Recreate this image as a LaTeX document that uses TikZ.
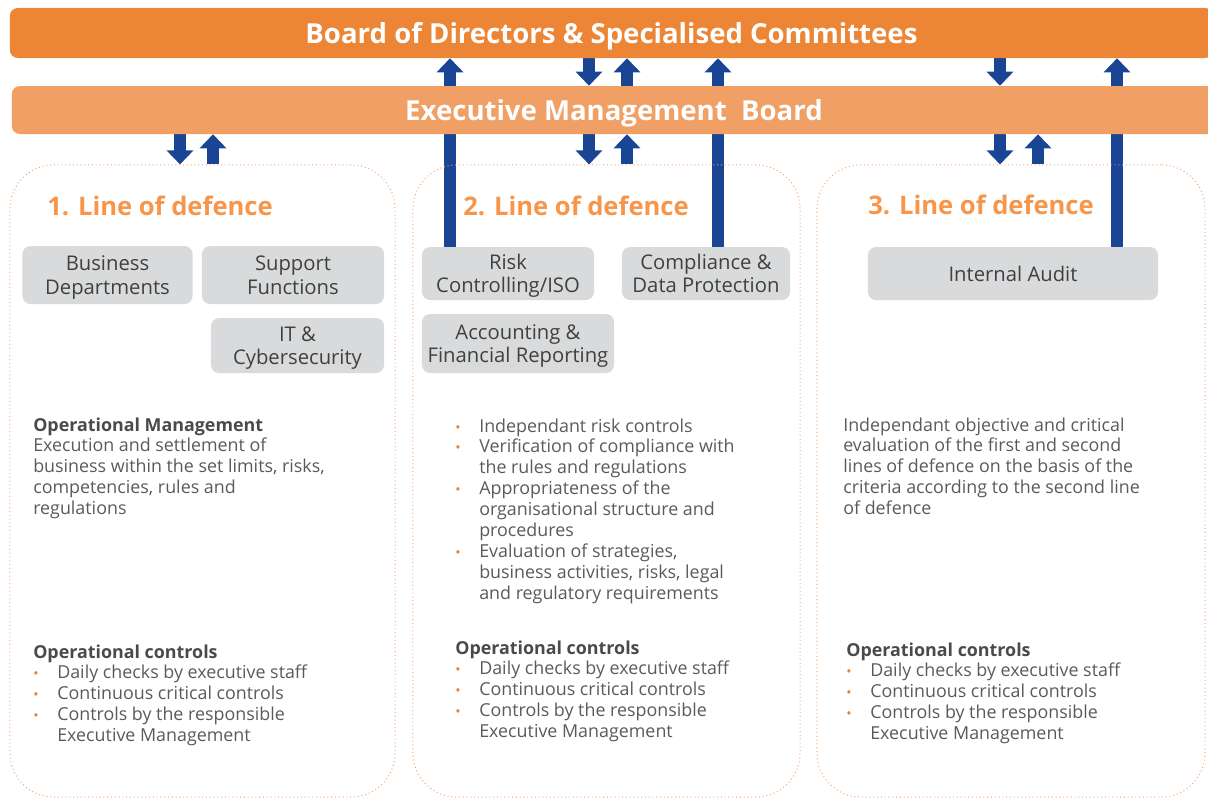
\documentclass[tikz,border=0pt]{standalone}
\usepackage{fontspec}
\setmainfont{Open Sans}
\usetikzlibrary{arrows.meta,backgrounds}

\definecolor{boardorange}{HTML}{EC8536}
\definecolor{emborange}{HTML}{F0A064}
\definecolor{titleorange}{HTML}{F7964A}
\definecolor{lodline}{HTML}{F6A46E}
\definecolor{bulletorange}{HTML}{F07F2A}
\definecolor{arrblue}{HTML}{1A4595}
\definecolor{unitgrey}{HTML}{D9DADB}
\definecolor{unittext}{HTML}{404040}
\definecolor{bodytext}{HTML}{5A5A5A}
\definecolor{headtext}{HTML}{4A4A4A}

\newcommand\bl{\makebox[0.6cm][l]{\textcolor{bulletorange}{\fontsize{10}{10}\selectfont\textbullet}}}
\newcommand\hd[1]{\textcolor{headtext}{\bfseries #1}}

\tikzset{
  bar/.style={rounded corners=0.2cm, text=white, text depth=0pt,
    font=\bfseries\fontsize{19.6}{22}\selectfont, inner sep=0pt},
  lod/.style={draw=lodline, dotted, line width=0.7pt, rounded corners=1.1cm,
    minimum height=15.8cm, inner sep=0pt},
  lodtitle/.style={anchor=west, text=titleorange, font=\bfseries\fontsize{18.2}{21}\selectfont, inner sep=0pt},
  unit/.style={fill=unitgrey, rounded corners=0.2cm, text=unittext, align=center, text depth=0pt,
    font=\fontsize{14.4}{16.6}\selectfont, inner sep=0pt},
  body/.style={anchor=base west, text=bodytext,
    font=\fontsize{12.7}{14.9}\selectfont, inner sep=0pt},
  arr/.style={draw=arrblue, line width=0.3cm, -{Triangle[width=0.65cm,length=0.35cm]}},
}

\begin{document}
\begin{tikzpicture}[x=0.025cm, y=-0.025cm]
\useasboundingbox (0,0) rectangle (1208,798);
\clip (0,0) rectangle (1208,798);

% top boards
\node[bar, fill=boardorange, minimum width=30.075cm, minimum height=1.25cm] (board) at (611.5,33)
  {Board of Directors \& Specialised Committees};
\node[bar, fill=emborange, minimum width=30.1cm, minimum height=1.2cm] (emb) at (614,110)
  {Executive Management\ \ Board};

% the three lines of defence
\node[lod, minimum width=9.625cm] (lod1) at (202.5,481) {};
\node[lod, minimum width=9.675cm] (lod2) at (606.5,481) {};
\node[lod, minimum width=9.7cm] (lod3) at (1011,481) {};

\node[lodtitle] (title1) at (47,206) {1. Line of defence};
\node[lodtitle] (title2) at (463,206) {2. Line of defence};
\node[lodtitle] (title3) at (868,205) {3. Line of defence};

% units
\node[unit, minimum width=4.25cm, minimum height=1.45cm] (bus) at (107.5,275) {Business\\Departments};
\node[unit, minimum width=4.55cm, minimum height=1.45cm] (sup) at (293,275) {Support\\Functions};
\node[unit, minimum width=4.325cm, minimum height=1.375cm] (itc) at (297.5,345.5) {IT \&\\Cybersecurity};
\node[unit, minimum width=4.3cm, minimum height=1.325cm] (risk) at (508,273.5) {Risk\\Controlling/ISO};
\node[unit, minimum width=4.2cm, minimum height=1.325cm] (comp) at (706,273.5) {Compliance \&\\Data Protection};
\node[unit, minimum width=4.8cm, minimum height=1.475cm] (acc) at (518,343.5) {Accounting \&\\Financial Reporting};
\node[unit, minimum width=7.25cm, minimum height=1.325cm] (audit) at (1013,273.5) {Internal Audit};

% descriptions
\node[body] (opm1) at (33,431) {\begin{tabular}[t]{@{}l@{}}
  \hd{Operational Management}\\
  Execution and settlement of\\
  business within the set limits, risks,\\
  competencies, rules and\\
  regulations
  \end{tabular}};
\node[body] (chk2) at (455,432) {\begin{tabular}[t]{@{}l@{}l@{}}
  \bl & Independant risk controls\\
  \bl & Verification of compliance with\\
      & the rules and regulations\\
  \bl & Appropriateness of the\\
      & organisational structure and\\
      & procedures\\
  \bl & Evaluation of strategies,\\
      & business activities, risks, legal\\
      & and regulatory requirements
  \end{tabular}};
\node[body] (eval3) at (843,431) {\begin{tabular}[t]{@{}l@{}}
  Independant objective and critical\\
  evaluation of the first and second\\
  lines of defence on the basis of the\\
  criteria according to the second line\\
  of defence
  \end{tabular}};

\node[body] (ctl1) at (33,658) {\begin{tabular}[t]{@{}l@{}l@{}}
  \multicolumn{2}{@{}l@{}}{\hd{Operational controls}}\\
  \bl & Daily checks by executive staff\\
  \bl & Continuous critical controls\\
  \bl & Controls by the responsible\\
      & Executive Management
  \end{tabular}};
\node[body] (ctl2) at (455,654) {\begin{tabular}[t]{@{}l@{}l@{}}
  \multicolumn{2}{@{}l@{}}{\hd{Operational controls}}\\
  \bl & Daily checks by executive staff\\
  \bl & Continuous critical controls\\
  \bl & Controls by the responsible\\
      & Executive Management
  \end{tabular}};
\node[body] (ctl3) at (846,656) {\begin{tabular}[t]{@{}l@{}l@{}}
  \multicolumn{2}{@{}l@{}}{\hd{Operational controls}}\\
  \bl & Daily checks by executive staff\\
  \bl & Continuous critical controls\\
  \bl & Controls by the responsible\\
      & Executive Management
  \end{tabular}};

% reporting arrows, behind the boards
\begin{scope}[on background layer]
  \draw[arr] (emb.south -| 180,0) -- (lod1.north -| 180,0);
  \draw[arr] (lod1.north -| 213,0) -- (emb.south -| 213,0);
  \draw[arr] (risk.north -| 450,0) -- (board.south -| 450,0);
  \draw[arr] (board.south -| 589,0) -- (emb.north -| 589,0);
  \draw[arr] (emb.north -| 627,0) -- (board.south -| 627,0);
  \draw[arr] (emb.south -| 589,0) -- (lod2.north -| 589,0);
  \draw[arr] (lod2.north -| 627,0) -- (emb.south -| 627,0);
  \draw[arr] (comp.north -| 718,0) -- (board.south -| 718,0);
  \draw[arr] (board.south -| 1000,0) -- (emb.north -| 1000,0);
  \draw[arr] (emb.south -| 1000,0) -- (lod3.north -| 1000,0);
  \draw[arr] (lod3.north -| 1038,0) -- (emb.south -| 1038,0);
  \draw[arr] (audit.north -| 1117,0) -- (board.south -| 1117,0);
\end{scope}
\end{tikzpicture}
\end{document}
